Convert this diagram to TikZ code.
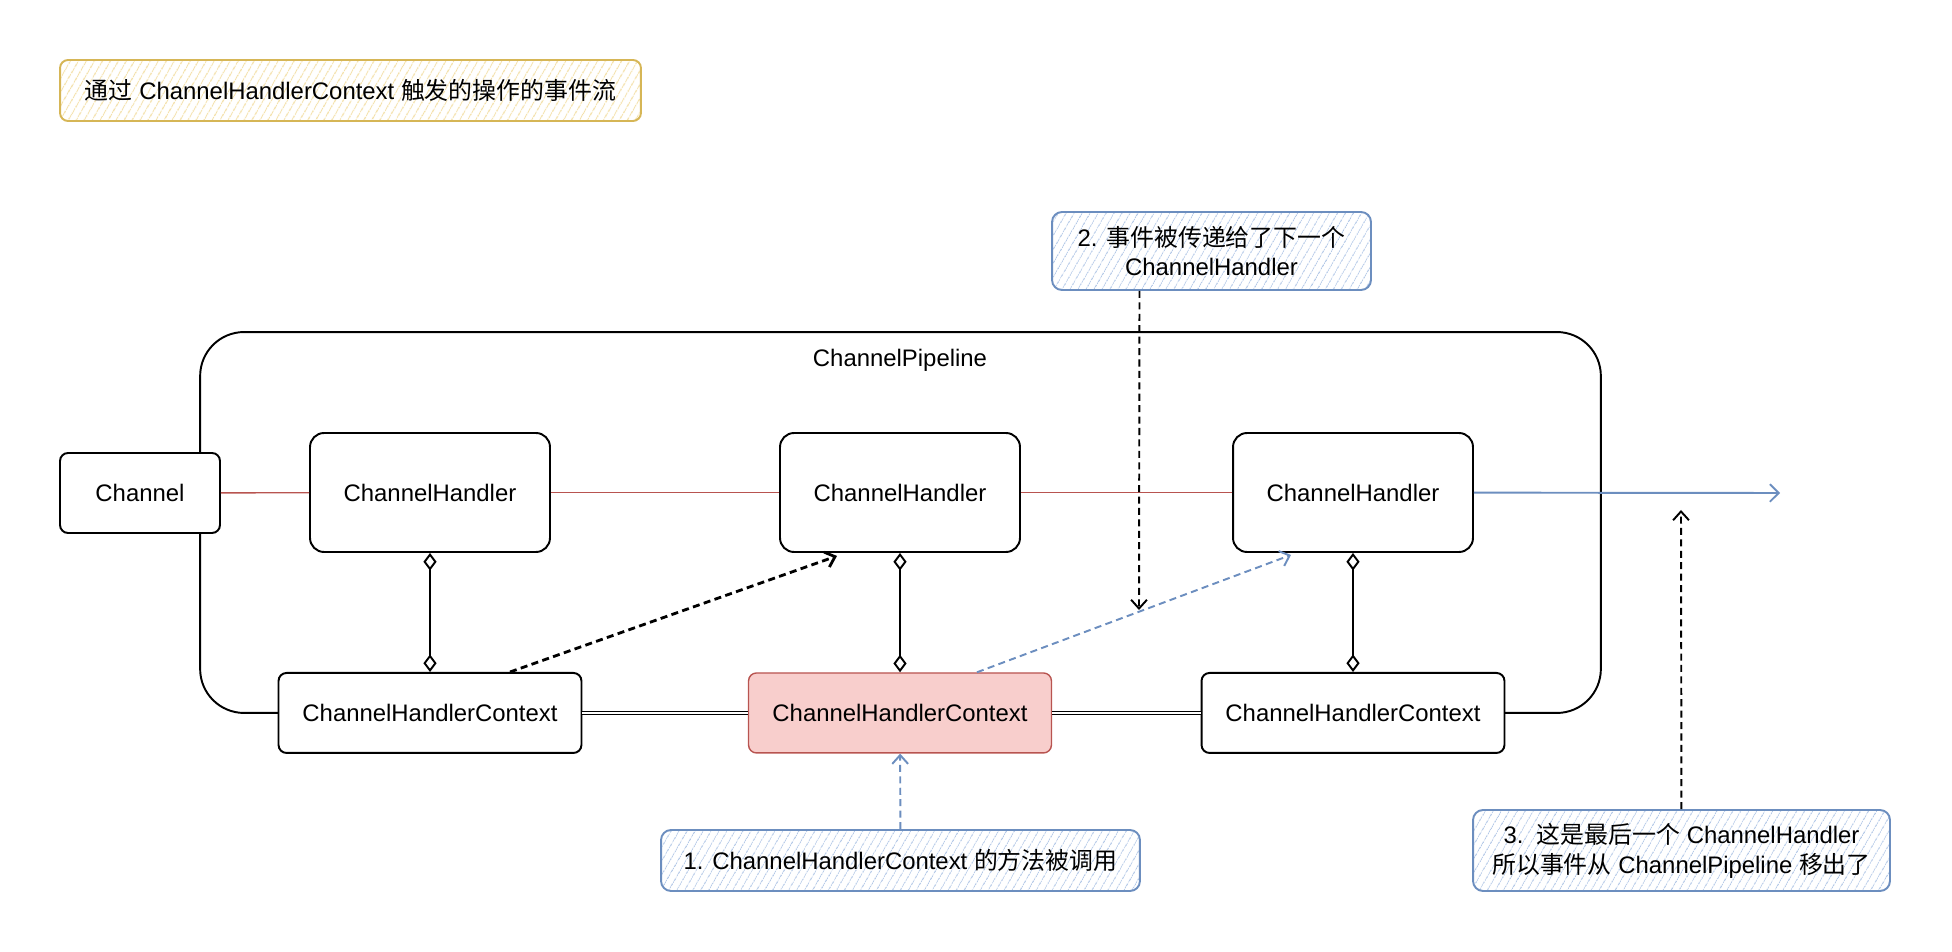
\documentclass[tikz,border=0pt]{standalone}
\usepackage{fontspec}
\setmainfont{Liberation Sans}
\newfontfamily\cjk{Noto Sans CJK SC}
\newcommand{\zh}[1]{{\cjk #1}}
\usetikzlibrary{arrows.meta, positioning, calc, patterns.meta}
\definecolor{redline}{HTML}{B85450}
\definecolor{redfill}{HTML}{F8CECC}
\definecolor{blueline}{HTML}{6C8EBF}
\definecolor{bluefill}{HTML}{DAE8FC}
\definecolor{yellowline}{HTML}{D6B656}
\definecolor{yellowfill}{HTML}{FFF2CC}
\tikzstyle{pipeline} = [rectangle, rounded corners=0.88cm, minimum width=28.02cm, minimum height=7.62cm, draw=black, line width=1.1pt]
\tikzstyle{channel} = [rectangle, rounded corners=0.16cm, minimum width=3.2cm, minimum height=1.6cm, text centered, draw=black, line width=1.1pt, fill=white]
\tikzstyle{handler} = [rectangle, rounded corners=0.28cm, minimum width=4.8cm, minimum height=2.38cm, text centered, draw=black, line width=1.1pt, fill=white]
\tikzstyle{context} = [rectangle, rounded corners=0.16cm, minimum width=6.06cm, minimum height=1.6cm, text centered, draw=black, line width=1.1pt, fill=white]
\tikzstyle{current} = [context, draw=redline, fill=redfill, line width=0.8pt]
\tikzstyle{note} = [rectangle, rounded corners=0.2cm, align=center, draw=blueline, line width=1.1pt, pattern={Lines[angle=60,distance=4pt,line width=0.6pt]}, pattern color=bluefill!65!blueline]
\tikzstyle{titlebox} = [rectangle, rounded corners=0.16cm, minimum width=11.62cm, minimum height=1.22cm, draw=yellowline, line width=1.1pt, pattern={Lines[angle=60,distance=4pt,line width=0.6pt]}, pattern color=yellowfill!70!yellowline]
\tikzstyle{bus} = [draw=redline, line width=0.8pt]
\tikzstyle{link} = [double, double distance=0.9pt, line width=0.7pt]
\tikzstyle{agg} = [line width=1.1pt, {Diamond[fill=white,length=10pt,width=7.5pt]}-{Diamond[fill=white,length=10pt,width=7.5pt]}]
\tikzstyle{arrow} = [line width=1.1pt, dashed, dash pattern=on 4pt off 2.5pt, -{Straight Barb[length=5pt,width=9pt]}]
\tikzstyle{outarrow} = [draw=blueline, line width=1.1pt, -{Straight Barb[length=5pt,width=10pt]}]

\begin{document}
\begin{tikzpicture}[x=0.02cm, y=-0.02cm, node distance=4.41cm, font=\fontsize{13.6pt}{17pt}\selectfont]
    \useasboundingbox (0,0) rectangle (1952,952);

    % Nodes
    \node (title) [titlebox] at (350.5,90.5) {\zh{通过} ChannelHandlerContext \zh{触发的操作的事件流}};
    \node (pipe) [pipeline] at (900.5,522.5) {};
    \node (pipelabel) at (900,360) {ChannelPipeline};
    \node (chan) [channel] at (140,493) {Channel};
    \node (h1) [handler] at (430,492.5) {ChannelHandler};
    \node (h2) [handler] at (900,492.5) {ChannelHandler};
    \node (h3) [handler] at (1353,492.5) {ChannelHandler};
    \node (ctx1) [context, below of=h1] {ChannelHandlerContext};
    \node (ctx2) [current, below of=h2] {ChannelHandlerContext};
    \node (ctx3) [context, below of=h3] {ChannelHandlerContext};
    \node (note1) [note, minimum width=9.58cm, minimum height=1.22cm] at (900.5,860.5) {1. ChannelHandlerContext \zh{的方法被调用}};
    \node (note2) [note, minimum width=6.38cm, minimum height=1.56cm] at (1211.5,251) {2. \zh{事件被传递给了下一个}\\ChannelHandler};
    \node (note3) [note, minimum width=8.34cm, minimum height=1.62cm] at (1681.5,850.5) {3.\ \ \zh{这是最后一个} ChannelHandler\\\zh{所以事件从} ChannelPipeline \zh{移出了}};
    \coordinate (out) at (1780,493);
    \coordinate (drop) at (1139,610);
    \coordinate (exit) at (1681,510);

    % Arrows
    \draw [bus] (chan) -- (h1);
    \draw [bus] (h1) -- (h2);
    \draw [bus] (h2) -- (h3);
    \draw [outarrow] (h3) -- (out);
    \draw [link] (ctx1) -- (ctx2);
    \draw [link] (ctx2) -- (ctx3);
    \draw [agg] (h1) -- (ctx1);
    \draw [agg] (h2) -- (ctx2);
    \draw [agg] (h3) -- (ctx3);
    \draw [arrow, line width=1.6pt] ($(ctx1.north)+(80,0)$) -- ($(h2.south)+(-63,3)$);
    \draw [arrow, draw=blueline] ($(ctx2.north)+(77,0)$) -- ($(h3.south)+(-62,2)$);
    \draw [arrow] ($(note2.south)+(-72,0)$) -- (drop);
    \draw [arrow, draw=blueline] (note1) -- (ctx2);
    \draw [arrow] (note3) -- (exit);
\end{tikzpicture}
\end{document}
